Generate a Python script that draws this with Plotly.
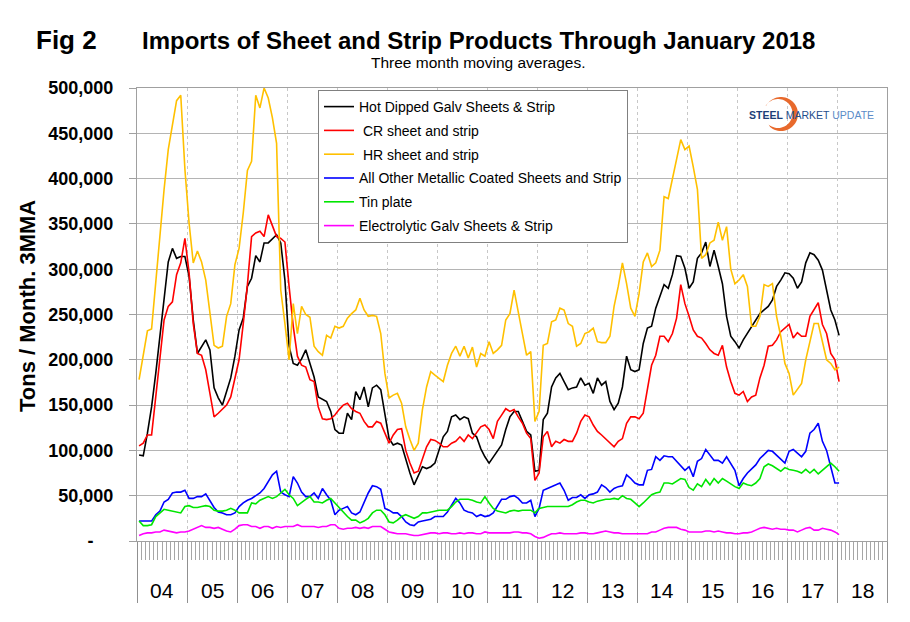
import numpy as np
import pandas as pd
import plotly.graph_objects as go

# ---------------- data (thousand tons, 3-month moving averages) ----------------
months = pd.date_range("2004-01-01", "2018-01-01", freq="MS")
years = ["04", "05", "06", "07", "08", "09", "10", "11", "12", "13", "14", "15", "16", "17", "18"]

hot_dipped_k = [95, 94, 119, 148, 185, 226, 273, 308, 323, 312, 314, 314, 292, 244, 207, 215, 222, 211, 169, 158,
                150, 165, 180, 204, 233, 246, 281, 290, 315, 308,
                329, 329, 334, 338, 329, 288, 215, 196, 194, 201, 211, 196, 181, 159, 156, 154, 143, 123, 119, 119,
                141, 134, 165, 156, 170, 148, 169, 172, 167,
                141, 113, 106, 108, 106, 89, 75, 62, 73, 82, 80, 82, 86, 100, 115, 121, 137, 139, 134, 137,
                135, 119, 115, 102, 93, 86, 93, 100,
                106, 123, 137, 143, 143, 132, 121, 117, 77, 78, 134, 141, 170, 180, 185, 176, 167, 169, 170, 180,
                172, 174, 163, 180, 172, 176, 154, 145, 152,
                170, 204, 189, 187, 189, 218, 235, 237, 257, 270, 283, 279, 294, 315, 314, 301, 279, 286, 312, 318,
                330, 303, 321, 303, 284, 248, 226, 220, 213,
                222, 229, 237, 244, 251, 255, 259, 266, 281, 288, 296, 295, 290, 279, 286, 307, 318, 316, 310, 299,
                277, 255, 244, 227]

cr_k = [105, 108, 117, 117, 159, 204, 244, 259, 264, 294, 307, 334, 296, 240, 207, 205, 189, 163, 137, 141,
        145, 150, 159, 178, 200, 240, 283, 336, 340, 342,
        336, 360, 347, 336, 334, 330, 281, 237, 204, 194, 192, 178, 176, 148, 135, 134, 135, 139, 145, 150,
        152, 146, 143, 141, 132, 126, 126, 132, 130,
        119, 108, 117, 123, 124, 100, 86, 75, 77, 91, 104, 112, 111, 108, 104, 104, 108, 110, 115, 110,
        117, 113, 119, 126, 128, 123, 113, 132,
        139, 146, 143, 145, 137, 130, 119, 113, 67, 75, 115, 121, 104, 110, 108, 112, 110, 110, 119, 132,
        139, 137, 128, 121, 117, 113, 108, 104, 110,
        113, 130, 137, 137, 135, 141, 167, 194, 205, 226, 226, 220, 229, 246, 283, 262, 248, 233, 226, 224,
        218, 211, 207, 205, 216, 192, 176, 163, 161,
        165, 154, 159, 161, 180, 194, 215, 216, 222, 231, 235, 239, 224, 230, 226, 226, 248, 255, 263, 239,
        229, 207, 200, 176]

hr_k = [178, 203, 232, 234, 288, 336, 388, 432, 461, 486, 492, 410, 351, 307, 320, 308, 288, 251, 216, 213,
        215, 248, 262, 305, 323, 362, 409, 419, 492, 478,
        500, 489, 467, 439, 277, 240, 200, 262, 229, 259, 250, 247, 215, 209, 205, 227, 224, 237, 235, 237,
        246, 251, 255, 268, 255, 248, 249, 248, 229,
        185, 158, 161, 163, 152, 126, 112, 100, 108, 145, 170, 187, 183, 180, 176, 194, 207, 215, 204, 215,
        202, 214, 192, 207, 204, 220, 207, 211,
        216, 244, 251, 277, 251, 229, 205, 209, 132, 143, 216, 218, 242, 244, 257, 255, 240, 237, 215, 218,
        229, 231, 235, 220, 219, 219, 226, 259, 281,
        307, 284, 257, 248, 273, 308, 318, 303, 307, 321, 380, 378, 399, 421, 443, 432, 436, 413, 388, 312,
        316, 329, 332, 352, 332, 347, 300, 284, 288,
        294, 281, 237, 237, 248, 283, 281, 284, 248, 226, 196, 185, 161, 167, 174, 200, 222, 240, 240, 218,
        200, 196, 189, 192]

other_coated_k = [22, 22, 22, 22, 29, 33, 43, 46, 53, 54, 54, 56, 47, 47, 49, 49, 52, 45, 37, 32,
                  31, 29, 29, 31, 38, 42, 45, 47, 50, 53,
                  58, 66, 73, 77, 54, 51, 49, 71, 64, 54, 49, 49, 53, 47, 58, 51, 45, 29, 34, 36,
                  38, 31, 29, 32, 43, 53, 61, 60, 57,
                  36, 34, 31, 31, 27, 21, 18, 17, 21, 22, 23, 24, 27, 27, 27, 32, 39, 47, 42, 34,
                  32, 31, 27, 29, 27, 28, 31, 38,
                  46, 46, 49, 50, 47, 42, 42, 45, 27, 36, 56, 58, 60, 62, 64, 56, 45, 48, 48, 51,
                  47, 51, 52, 54, 62, 59, 54, 58, 60,
                  61, 73, 69, 64, 62, 62, 78, 79, 93, 89, 94, 93, 93, 88, 84, 78, 82, 71, 88, 91,
                  101, 95, 89, 89, 86, 93, 85, 78, 61,
                  69, 75, 79, 84, 91, 95, 100, 99, 95, 91, 86, 99, 101, 97, 93, 99, 119, 123, 130, 110,
                  100, 82, 64, 64]

tin_plate_k = [22, 17, 17, 18, 27, 31, 35, 34, 33, 32, 31, 38, 39, 37, 37, 38, 39, 38, 34, 33,
               33, 34, 36, 34, 31, 31, 31, 42, 41, 45,
               47, 49, 47, 49, 53, 57, 51, 47, 39, 43, 46, 49, 43, 43, 42, 45, 47, 42, 37, 31,
               27, 23, 23, 20, 22, 25, 31, 34, 34,
               29, 21, 20, 23, 27, 29, 27, 25, 27, 31, 31, 32, 33, 34, 34, 34, 38, 43, 46, 46,
               46, 45, 43, 42, 49, 42, 36, 33,
               32, 31, 33, 34, 33, 34, 34, 34, 31, 36, 37, 38, 38, 38, 38, 38, 38, 40, 43, 45,
               45, 43, 42, 44, 45, 46, 46, 47, 46,
               50, 47, 46, 42, 38, 42, 46, 51, 53, 54, 64, 64, 63, 66, 69, 68, 59, 56, 63, 60,
               68, 62, 69, 64, 69, 66, 63, 60, 58,
               64, 62, 61, 64, 69, 82, 85, 83, 80, 77, 81, 79, 78, 77, 75, 79, 75, 79, 74, 78,
               83, 86, 82, 77]

electro_galv_k = [6, 8, 9, 9, 10, 10, 12, 11, 10, 9, 10, 10, 11, 13, 15, 17, 15, 15, 14, 15,
                  13, 11, 10, 13, 17, 18, 18, 16, 16, 14,
                  16, 16, 14, 16, 15, 16, 16, 16, 18, 16, 16, 16, 16, 15, 16, 16, 18, 18, 14, 13,
                  14, 14, 15, 14, 15, 14, 16, 16, 16,
                  13, 10, 9, 8, 8, 8, 7, 6, 6, 7, 8, 9, 9, 8, 9, 9, 8, 8, 9, 8,
                  9, 9, 8, 8, 10, 9, 9, 9,
                  9, 9, 9, 10, 10, 9, 9, 8, 5, 3, 4, 6, 8, 8, 9, 8, 8, 8, 8, 9,
                  9, 8, 8, 9, 10, 11, 10, 9, 9,
                  8, 8, 8, 8, 8, 8, 8, 10, 10, 12, 14, 15, 15, 15, 13, 12, 10, 10, 10, 10,
                  11, 11, 10, 11, 10, 9, 9, 8, 8,
                  9, 9, 10, 12, 14, 15, 14, 13, 14, 13, 13, 12, 12, 10, 12, 14, 15, 12, 12, 14,
                  13, 12, 10, 7]

series_names = ["Hot Dipped Galv Sheets & Strip", " CR sheet and strip", " HR sheet and strip",
                "All Other Metallic Coated Sheets and Strip", "Tin plate", "Electrolytic Galv Sheets & Strip"]
series_values = [hot_dipped_k, cr_k, hr_k, other_coated_k, tin_plate_k, electro_galv_k]
series_colors = ["#000000", "#ff0000", "#ffc000", "#0000ff", "#00e600", "#ff00ff"]

y_ticks = list(range(0, 500001, 50000))

# ---------------- figure ----------------
FONT = "Arial, Liberation Sans, sans-serif"
L, R, T, B, W, H = 137, 23, 88, 81, 910, 622
PW, PH = W - L - R, H - T - B


def px_to_paper(x, y):
    return (x - L) / PW, (H - B - y) / PH


n_months = len(years) * 12
x_pos = np.arange(len(months)) + 0.5

fig = go.Figure()
for name, vals, col in zip(series_names, series_values, series_colors):
    fig.add_trace(go.Scatter(
        x=x_pos, y=[v * 1000 for v in vals], mode="lines", name=name,
        line=dict(color=col, width=1.6), legendgroup=name,
    ))

# helper trace for the year-separator axis
fig.add_trace(go.Scatter(x=[0, n_months], y=[None, None], xaxis="x2", showlegend=False,
                         hoverinfo="skip", mode="lines"))

lx, ly = px_to_paper(318, 90)
fig.update_layout(
    width=W, height=H,
    margin=dict(l=L, r=R, t=T, b=B),
    paper_bgcolor="white", plot_bgcolor="white",
    font=dict(family=FONT, color="black"),
    showlegend=True,
    legend=dict(
        x=lx, y=ly, xanchor="left", yanchor="top",
        bgcolor="white", bordercolor="#808080", borderwidth=1,
        font=dict(family=FONT, size=14, color="black"),
        tracegroupgap=2.6, itemwidth=30,
    ),
    xaxis=dict(
        range=[0, n_months], tickmode="array", tickvals=list(range(0, n_months + 1)),
        ticks="outside", ticklen=18, tickcolor="#a6a6a6", tickwidth=1,
        showticklabels=False, showgrid=False, zeroline=False,
        showline=True, linecolor="#a0a0a0", linewidth=1, mirror=True,
    ),
    xaxis2=dict(
        overlaying="x", anchor="y", side="bottom", range=[0, n_months],
        tickmode="array", tickvals=list(range(0, n_months + 1, 12)),
        ticks="outside", ticklen=61, tickcolor="#909090", tickwidth=1,
        showticklabels=False, showgrid=True, gridcolor="#c8c8c8", griddash="dot", gridwidth=1,
        zeroline=False, showline=False,
    ),
    yaxis=dict(
        range=[0, 500000], tickmode="array", tickvals=y_ticks,
        ticktext=["-" + "\u00a0" * 4 if v == 0 else f"{v:,}" for v in y_ticks],
        ticks="outside", ticklen=7, tickcolor="#a0a0a0",
        tickfont=dict(family=FONT, size=18, color="black", weight="bold"),
        ticklabelstandoff=12,
        showgrid=True, gridcolor="#b4b4b4", gridwidth=1, zeroline=False,
        showline=True, linecolor="#a0a0a0", linewidth=1, mirror=True,
    ),
)

ann = []
# titles
x, y = px_to_paper(66, 40)
ann.append(dict(x=x, y=y, xref="paper", yref="paper", text="<b>Fig 2</b>", showarrow=False,
                font=dict(size=26, family=FONT), xanchor="center", yanchor="middle"))
x, y = px_to_paper(478, 41)
ann.append(dict(x=x, y=y, xref="paper", yref="paper",
                text="<b>Imports of Sheet and Strip Products Through January 2018</b>", showarrow=False,
                font=dict(size=24, family=FONT), xanchor="center", yanchor="middle"))
x, y = px_to_paper(478, 63)
ann.append(dict(x=x, y=y, xref="paper", yref="paper", text="Three month moving averages.",
                showarrow=False, font=dict(size=15.5, family=FONT), xanchor="center", yanchor="middle"))
x, y = px_to_paper(27, 306)
ann.append(dict(x=x, y=y, xref="paper", yref="paper", text="<b>Tons / Month. 3MMA</b>", textangle=-90,
                showarrow=False, font=dict(size=22, family=FONT), xanchor="center", yanchor="middle"))
# year labels
_, yl = px_to_paper(0, 590)
for i, yr in enumerate(years):
    ann.append(dict(x=i * 12 + 6, y=yl, xref="x", yref="paper", text=yr, showarrow=False,
                    font=dict(size=21, family=FONT), xanchor="center", yanchor="middle"))
# logo text
x, y = px_to_paper(811, 115)
ann.append(dict(x=x, y=y, xref="paper", yref="paper",
                text="<b><span style='color:#1c3f78'>STEEL</span></b> "
                     "<span style='color:#1f4e8c'>MARKET</span> <span style='color:#5b8cc8'>UPDATE</span>",
                showarrow=False, font=dict(size=10.5, family=FONT), xanchor="center", yanchor="middle"))
fig.update_layout(annotations=ann)

# logo swoosh (orange crescent)
t_out = np.linspace(np.deg2rad(150), np.deg2rad(-130), 50)
t_in = t_out[::-1]
outer = [px_to_paper(781 + 17 * np.cos(t), 114 - 17 * np.sin(t)) for t in t_out]
inner = [px_to_paper(778 + 14.5 * np.cos(t), 113.5 - 14.5 * np.sin(t)) for t in t_in]
pts = outer + inner
path = "M " + " L ".join(f"{px:.5f},{py:.5f}" for px, py in pts) + " Z"
fig.add_shape(type="path", path=path, xref="paper", yref="paper",
              line=dict(width=0), fillcolor="#e8692c", layer="above")

fig.write_html("out.html", config={"displayModeBar": False},
               post_script="document.body.style.margin='0px';")
